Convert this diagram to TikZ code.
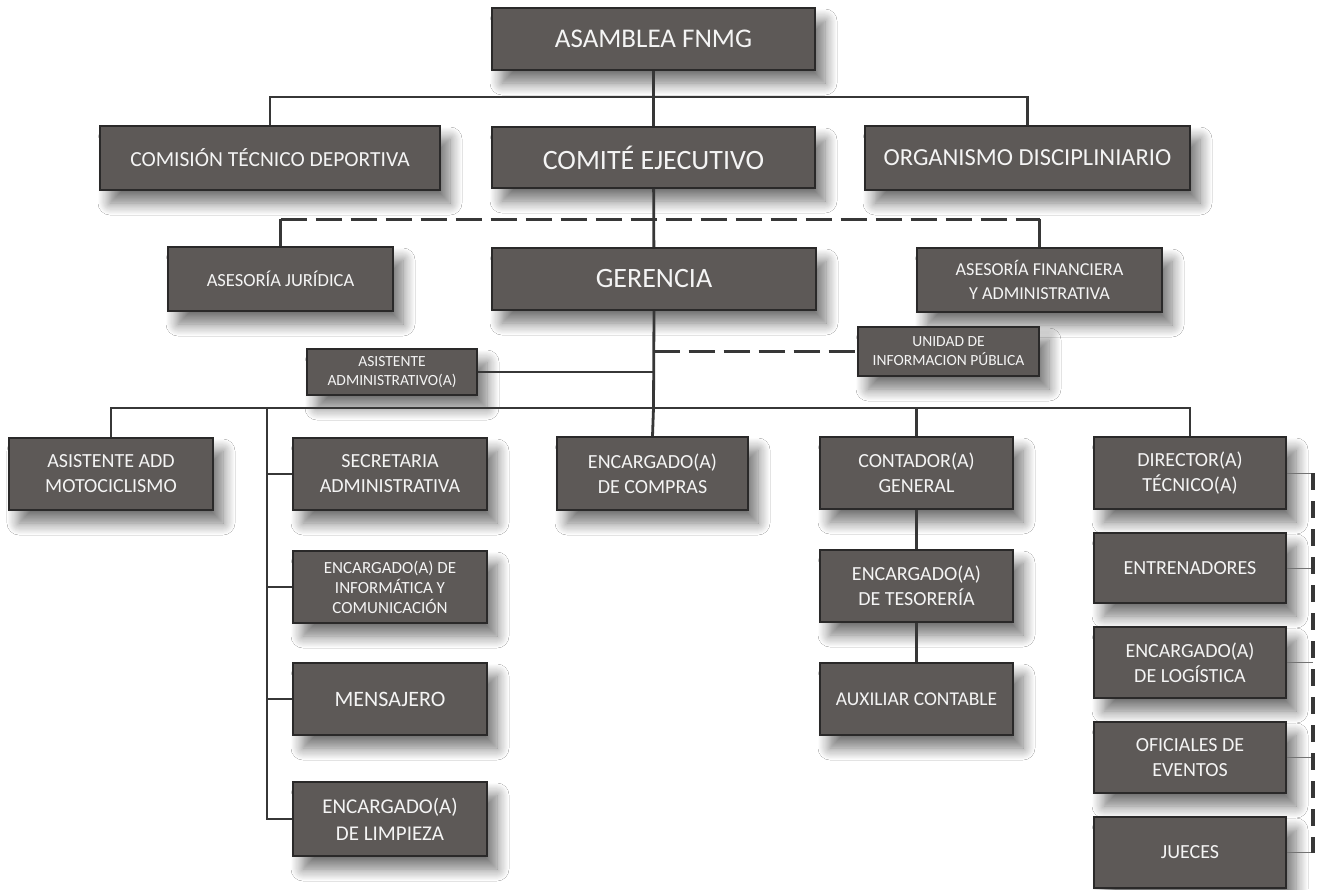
\documentclass[tikz,border=0pt]{standalone}
\usepackage{fontspec}
\setmainfont{Carlito}
\usetikzlibrary{shadows.blur}
\definecolor{boxfill}{RGB}{93,89,87}
\definecolor{boxborder}{RGB}{42,41,41}
\definecolor{boxtext}{RGB}{244,244,244}
\definecolor{linecol}{RGB}{55,55,55}
\begin{document}
\begin{tikzpicture}[x=1pt,y=-1pt,
  box/.style={draw=boxborder,line width=1.8pt,fill=boxfill,text=boxtext,align=center,inner sep=0pt,
    blur shadow={shadow xshift=10pt,shadow yshift=-13pt,shadow blur radius=12pt,shadow blur steps=12,shadow opacity=55}},
  wh/.style 2 args={minimum width=#1pt,minimum height=#2pt},
  fs/.style 2 args={font=\fontsize{#1}{#2}\selectfont},
  conn/.style={draw=linecol,line width=2.8pt},
  dconn/.style={draw=linecol,line width=3pt,dash pattern=on 26pt off 9pt},
  stub/.style={draw=linecol!70,line width=1pt},
  rdash/.style={draw=linecol,line width=3.2pt,dash pattern=on 17pt off 11pt}]
\fill[white] (0,0) rectangle (1317,889);
\useasboundingbox (0,0) rectangle (1317,889);
% top level
\node[box,wh={323}{62},fs={27}{31}] (asamblea) at (653.5,39) {ASAMBLEA FNMG};
\node[box,wh={323}{61},fs={28}{32}] (comite) at (653.5,157.5) {COMITÉ EJECUTIVO};
\node[box,wh={340}{64},fs={21.5}{25}] (comision) at (270,158) {COMISIÓN TÉCNICO DEPORTIVA};
\node[box,wh={325}{64},fs={24.5}{28}] (organismo) at (1027.5,158) {ORGANISMO DISCIPLINIARIO};
% second level
\node[box,wh={225}{64},fs={18.5}{22}] (juridica) at (280.5,279) {ASESORÍA JURÍDICA};
\node[box,wh={324}{62},fs={28}{32}] (gerencia) at (654,279) {GERENCIA};
\node[box,wh={245}{64},fs={18.2}{24}] (financiera) at (1039.5,280) {ASESORÍA FINANCIERA\\Y ADMINISTRATIVA};
\node[box,wh={181}{49},fs={15.5}{19}] (unidad) at (948.5,351.5) {UNIDAD DE\\INFORMACION PÚBLICA};
\node[box,wh={170}{46},fs={15.5}{19}] (asistente) at (392,372) {ASISTENTE\\ADMINISTRATIVO(A)};
% third level
\node[box,wh={204}{72},fs={20}{25}] (moto) at (111,474) {ASISTENTE ADD\\MOTOCICLISMO};
\node[box,wh={194}{72},fs={20}{25}] (secretaria) at (390,474) {SECRETARIA\\ADMINISTRATIVA};
\node[box,wh={194}{72},fs={17}{20}] (informatica) at (390,587) {ENCARGADO(A) DE\\INFORMÁTICA Y\\COMUNICACIÓN};
\node[box,wh={194}{72},fs={22}{26}] (mensajero) at (390,699) {MENSAJERO};
\node[box,wh={194}{74},fs={21}{27}] (limpieza) at (390,819) {ENCARGADO(A)\\DE LIMPIEZA};
\node[box,wh={191}{73},fs={20}{25}] (compras) at (652.5,473.5) {ENCARGADO(A)\\DE COMPRAS};
\node[box,wh={193}{72},fs={20}{25}] (contador) at (916.5,473) {CONTADOR(A)\\GENERAL};
\node[box,wh={193}{72},fs={20}{25}] (tesoreria) at (916.5,586) {ENCARGADO(A)\\DE TESORERÍA};
\node[box,wh={193}{72},fs={19.5}{23}] (auxiliar) at (916.5,699) {AUXILIAR CONTABLE};
\node[box,wh={192}{72},fs={20}{25}] (director) at (1190,473) {DIRECTOR(A)\\TÉCNICO(A)};
\node[box,wh={192}{70},fs={20}{25}] (entrenadores) at (1190,568) {ENTRENADORES};
\node[box,wh={192}{71},fs={20}{25}] (logistica) at (1190,662.5) {ENCARGADO(A)\\DE LOGÍSTICA};
\node[box,wh={192}{71},fs={20}{25}] (oficiales) at (1190,757.5) {OFICIALES DE\\EVENTOS};
\node[box,wh={192}{71},fs={20}{25}] (jueces) at (1190,852.5) {JUECES};
% junction coordinates
\coordinate (bus1) at (653.5,97);
\coordinate (dj) at (280.5,219);
\coordinate (df) at (1039.5,219);
\coordinate (asj) at (653.5,372);
\coordinate (unj) at (653.5,351.5);
\coordinate (bus2) at (653.5,408);
\coordinate (spine) at (267,408);
\coordinate (rt) at (1313,473);
\coordinate (rb) at (1313,852.5);
% connectors: top
\draw[conn] (asamblea) -- (comite);
\draw[conn] (comision.north) |- (bus1) -| (organismo.north);
\draw[conn] (comite) -- (gerencia);
\draw[conn] (juridica.north) -- (dj);
\draw[dconn] (dj) -- (df);
\draw[conn] (financiera.north) -- (df);
% gerencia down
\draw[conn] (gerencia.south) -- (bus2);
\draw[conn] (asistente.east) -- (asj);
\draw[dconn] (unj) -- (unidad.west);
\draw[conn] (moto.north) |- (bus2) -| (director.north);
\draw[conn] (bus2) -- (compras.north);
\draw[conn] (contador.north) -- (contador.north |- bus2);
% left spine
\draw[conn] (spine) |- (limpieza.west);
\draw[conn] (secretaria.west) -- (secretaria.west -| spine);
\draw[conn] (informatica.west) -- (informatica.west -| spine);
\draw[conn] (mensajero.west) -- (mensajero.west -| spine);
% contador column
\draw[conn] (contador) -- (tesoreria);
\draw[conn] (tesoreria) -- (auxiliar);
% director column
\draw[stub] (director.east) -- (director.east -| rt);
\draw[stub] (entrenadores.east) -- (entrenadores.east -| rt);
\draw[stub] (logistica.east) -- (logistica.east -| rt);
\draw[stub] (oficiales.east) -- (oficiales.east -| rt);
\draw[stub] (jueces.east) -- (jueces.east -| rt);
\draw[rdash] (rt) -- (rb);
\end{tikzpicture}
\end{document}
